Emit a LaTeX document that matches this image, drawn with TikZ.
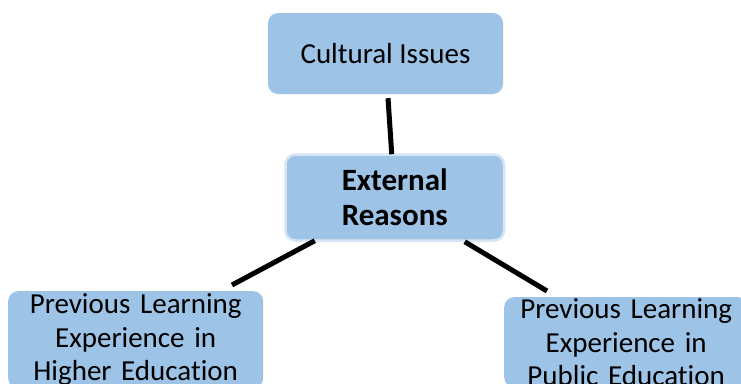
\documentclass[tikz,border=0pt]{standalone}
\usepackage{fontspec}
\setmainfont{Carlito}[Ligatures=NoCommon]
\usetikzlibrary{positioning}
\definecolor{boxblue}{RGB}{157,195,230}
\definecolor{rimblue}{RGB}{214,229,244}

\begin{document}
\begin{tikzpicture}[x=1pt,y=-1pt,
    box/.style={fill=boxblue,rounded corners=10pt,align=center,
        font=\fontsize{29}{33.5}\selectfont},
    link/.style={draw,line width=5pt}]

\useasboundingbox (0,0) rectangle (741,383);

\node[box,minimum width=235pt,minimum height=81pt] (C_I) at (385.5,53.5) {Cultural Issues};
\node[box,draw=rimblue,line width=2.5pt,minimum width=218.5pt,minimum height=86pt,
    font=\fontsize{31}{35}\selectfont\bfseries] (E_R) at (394.75,197.5) {External\\Reasons};
\node[box,anchor=north west,text width=247pt,inner xsep=4pt,inner ysep=2.5pt] (H_E) at (8,291)
    {Previous Learning\\Experience in\\Higher Education};
\node[box,anchor=north west,text width=236pt,inner xsep=4pt,inner ysep=1.5pt] (P_E) at (504,297)
    {Previous Learning\\Experience in\\Public Education};

\draw[link]
    ([shift={(2.5,4)}]C_I.south) -- ([shift={(-3,1)}]E_R.north)
    ([shift={(-80,-1)}]E_R.south) -- ([shift={(224,-6)}]H_E.north west)
    ([shift={(70,0)}]E_R.south) -- ([shift={(43,-6)}]P_E.north west);

\end{tikzpicture}
\end{document}
